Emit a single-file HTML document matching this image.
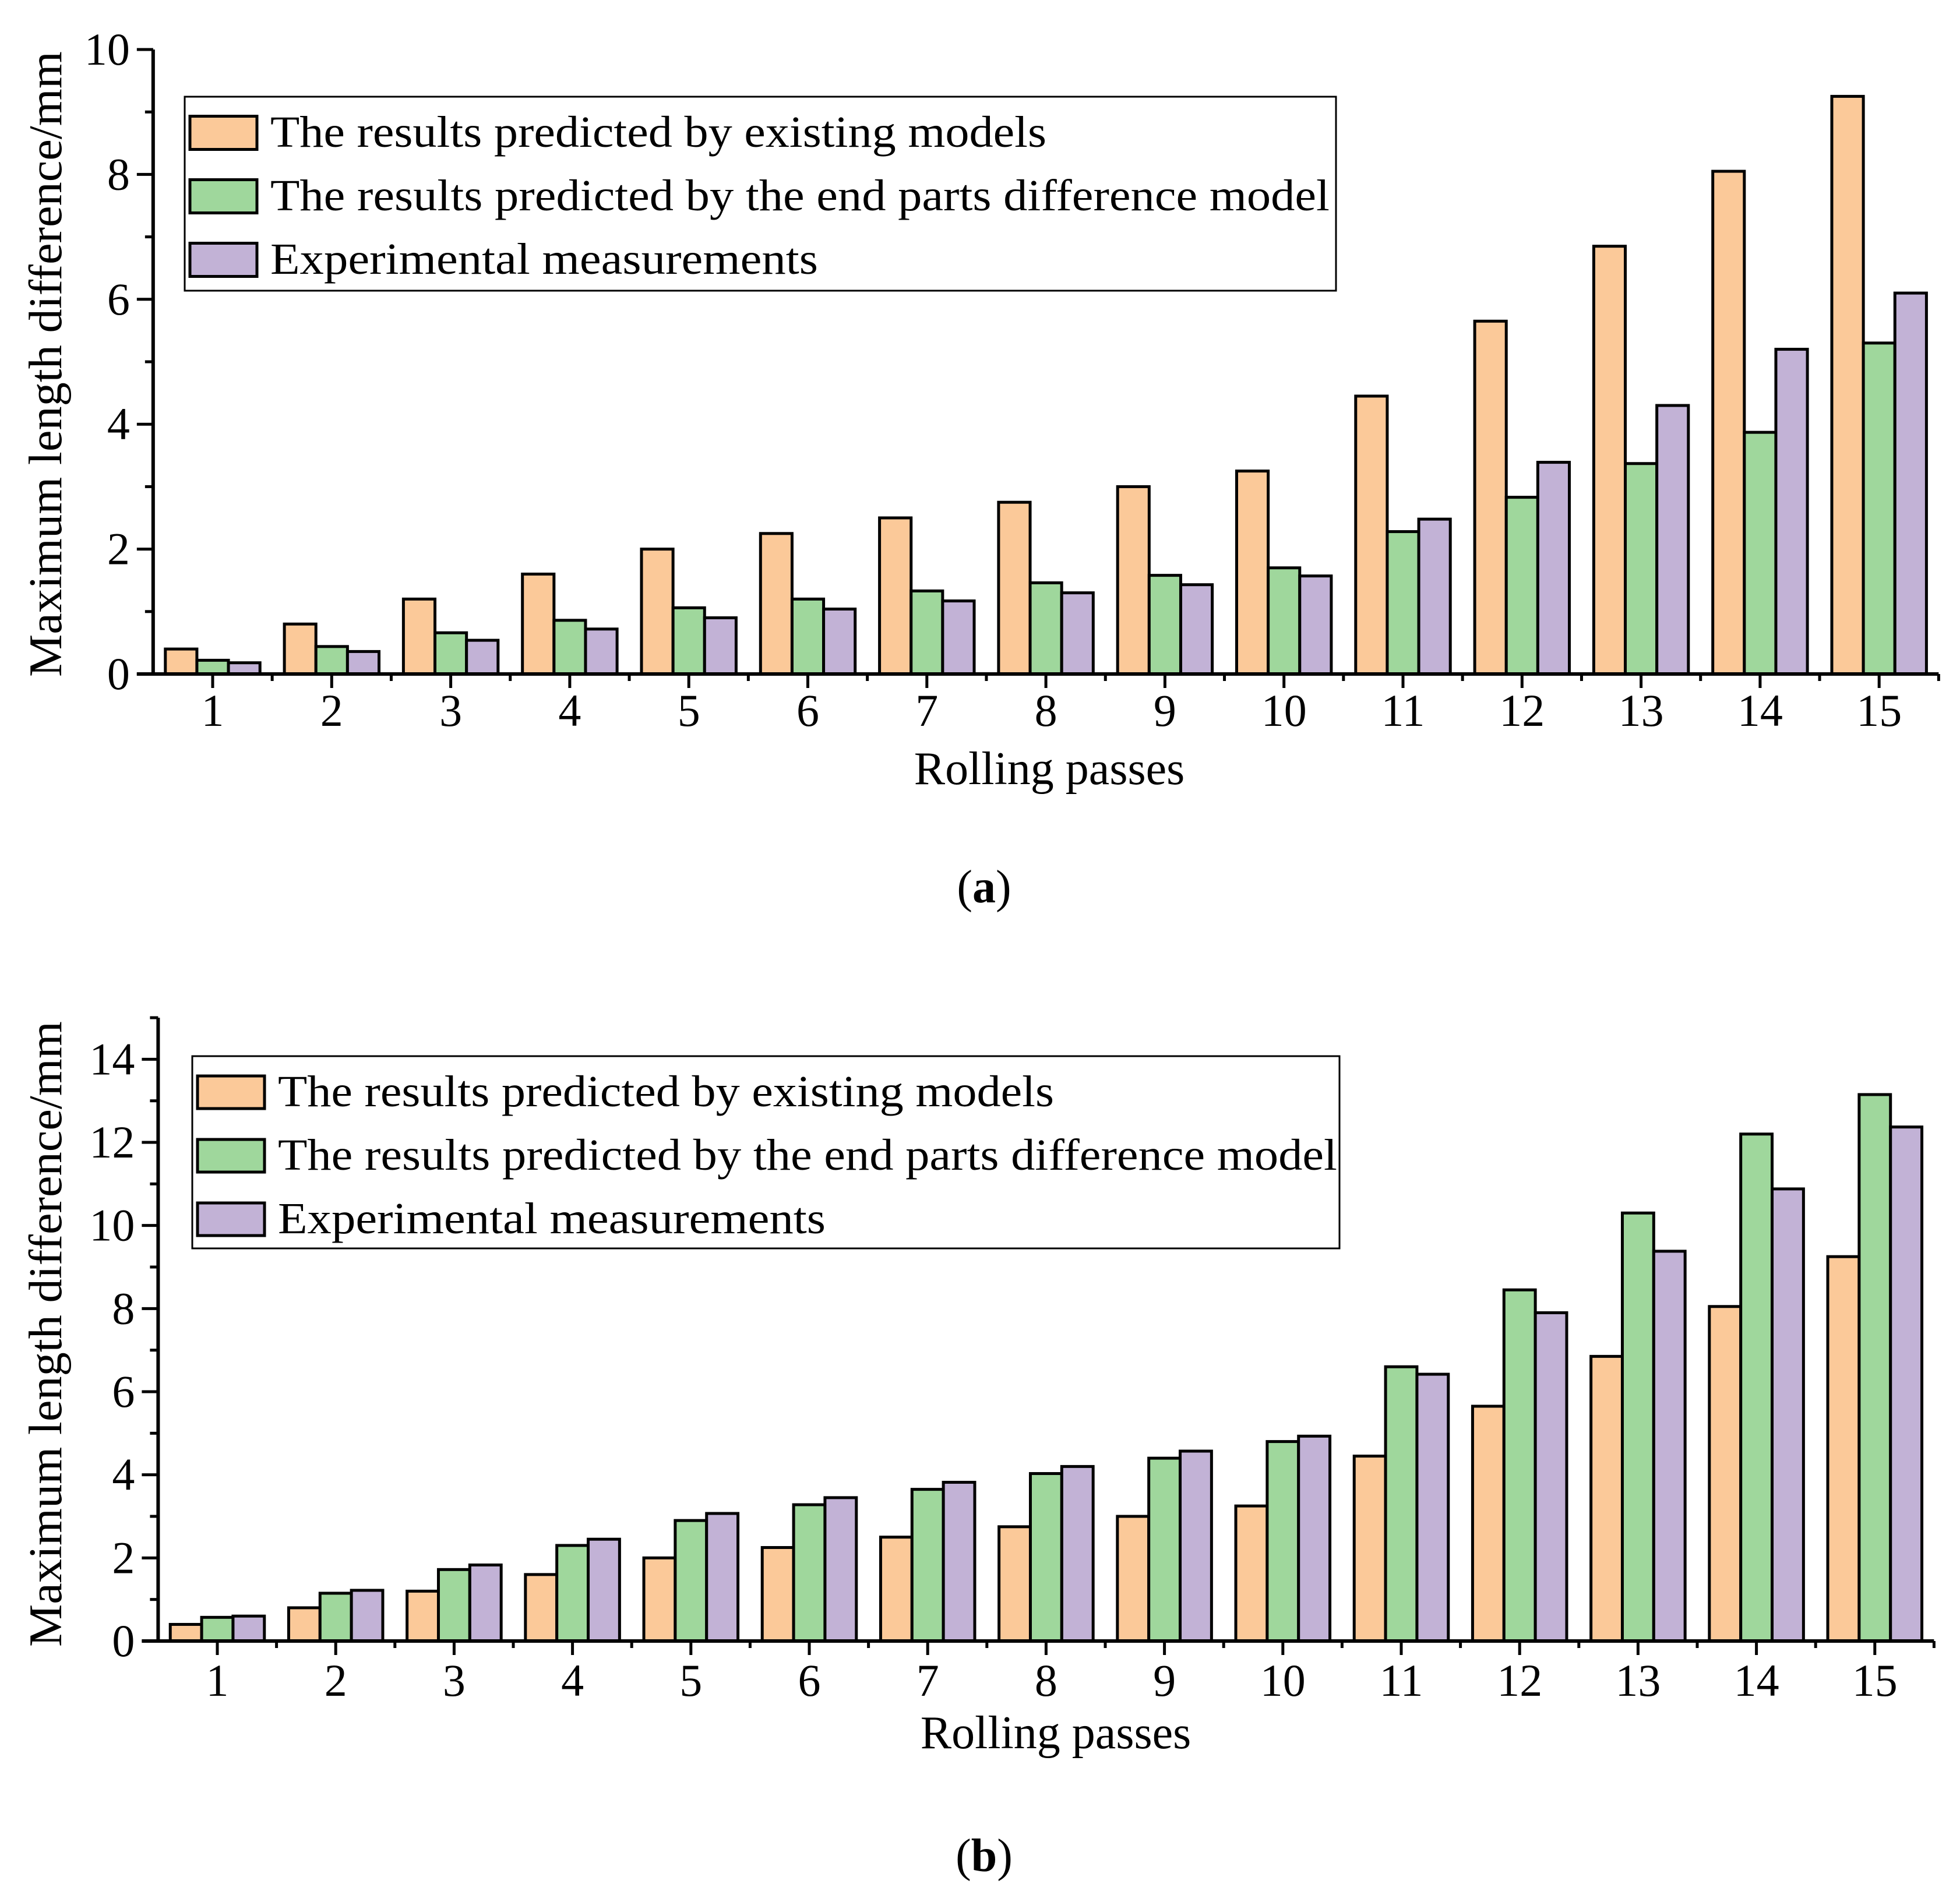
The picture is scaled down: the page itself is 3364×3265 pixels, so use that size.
<!DOCTYPE html>
<html><head><meta charset="utf-8"><style>
html,body{margin:0;padding:0;background:#fff;}
svg{display:block;font-family:"Liberation Serif",serif;}
</style></head><body>
<svg id="fig" width="3364" height="3265" viewBox="0 0 3364 3265" xmlns="http://www.w3.org/2000/svg">
<rect width="3364" height="3265" fill="#fff"/>
</svg>
<script>
const categories = [1,2,3,4,5,6,7,8,9,10,11,12,13,14,15];
const seriesNames = ["The results predicted by existing models","The results predicted by the end parts difference model","Experimental measurements"];
const aExisting = [0.4,0.8,1.2,1.6,2.0,2.25,2.5,2.75,3.0,3.25,4.45,5.65,6.85,8.05,9.25];
const aEndParts = [0.22,0.44,0.66,0.86,1.06,1.2,1.33,1.46,1.58,1.7,2.28,2.83,3.37,3.87,5.3];
const aMeasured = [0.18,0.36,0.54,0.72,0.9,1.04,1.17,1.3,1.43,1.57,2.48,3.39,4.3,5.2,6.1];
const bExisting = [0.4,0.8,1.2,1.6,2.0,2.25,2.5,2.75,3.0,3.25,4.45,5.65,6.85,8.05,9.25];
const bEndParts = [0.57,1.15,1.72,2.3,2.9,3.28,3.65,4.03,4.4,4.8,6.6,8.45,10.3,12.2,13.15];
const bMeasured = [0.6,1.22,1.83,2.45,3.07,3.45,3.82,4.2,4.57,4.93,6.42,7.9,9.38,10.88,12.37];
const aYTicks = [0,2,4,6,8,10];
const bYTicks = [0,2,4,6,8,10,12,14];

const NS="http://www.w3.org/2000/svg";
const svg=document.getElementById('fig');
const colors=["#FBC999","#9FD79C","#C2B2D6"];
const legendLens=[1332,1818,940];
function mk(tag,attrs,parent){const e=document.createElementNS(NS,tag);for(const k in attrs)e.setAttribute(k,attrs[k]);(parent||svg).appendChild(e);return e;}

function chart(cfg){
  const g=mk('g',{});
  
  
  const xs=v=>cfg.x1+(v-1)*cfg.dx;
  const ys=v=>cfg.y0-(v/cfg.ymax)*(cfg.y0-cfg.ytop);
  const bw=cfg.dx*0.265;
  cfg.series.forEach((arr,si)=>{
    arr.forEach((v,i)=>{
      const cx=xs(categories[i])+(si-1)*bw;
      const r=mk('rect',{x:cx-bw/2,y:ys(v),width:bw,height:ys(0)-ys(v),fill:colors[si],stroke:'#000','stroke-width':5},g);
      
      
    });
  });
  const axL=cfg.x1-cfg.dx/2, axR=xs(categories[categories.length-1])+cfg.dx/2;
  const ya=mk('line',{x1:axL,y1:cfg.ytop,x2:axL,y2:cfg.y0+2,stroke:'#000','stroke-width':6},g);
  
  
  const xa=mk('line',{x1:axL-28,y1:cfg.y0,x2:axR,y2:cfg.y0,stroke:'#000','stroke-width':6},g);
  
  
  for(let v=0;v<=cfg.ymax;v+=1){
    const major=cfg.yticks.includes(v);
    mk('line',{x1:axL-(major?28:14),y1:ys(v),x2:axL,y2:ys(v),stroke:'#000','stroke-width':5},g);
  }
  cfg.yticks.forEach(v=>{
    const t=mk('text',{x:axL-40,y:ys(v)+26,'text-anchor':'end','font-size':78},g);
    t.textContent=v;
    
    
  });
  categories.forEach(c=>{
    mk('line',{x1:xs(c),y1:cfg.y0,x2:xs(c),y2:cfg.y0+24,stroke:'#000','stroke-width':5},g);
    mk('line',{x1:xs(c)+cfg.dx/2,y1:cfg.y0,x2:xs(c)+cfg.dx/2,y2:cfg.y0+12,stroke:'#000','stroke-width':5},g);
    const t=mk('text',{x:xs(c),y:cfg.tickY,'text-anchor':'middle','font-size':78},g);
    t.textContent=c;
    
    
  });
  const xt=mk('text',{x:cfg.xtX,y:cfg.xtY,'text-anchor':'middle','font-size':80},g);
  xt.textContent='Rolling passes';
  
  
  const yt=mk('text',{x:0,y:0,'text-anchor':'middle','font-size':80,textLength:cfg.ytLen,lengthAdjust:'spacingAndGlyphs',transform:`translate(${cfg.ytX},${cfg.ytY}) rotate(-90)`},g);
  yt.textContent='Maximum length difference/mm';
  
  
  const L=cfg.legend;
  const lb=mk('rect',{x:L.x,y:L.y,width:L.w,height:L.h,fill:'#fff',stroke:'#000','stroke-width':3},g);
  
  
  seriesNames.forEach((n,i)=>{
    const cy=L.rows[i];
    const sw=mk('rect',{x:L.x+9,y:cy-L.sh/2,width:115,height:L.sh,fill:colors[i],stroke:'#000','stroke-width':5},g);
    
    
    const t=mk('text',{x:L.x+147,y:cy+24,'font-size':76,textLength:legendLens[i],lengthAdjust:'spacingAndGlyphs'},g);
    t.textContent=n;
    
    
  });
  const cap=mk('text',{x:cfg.capX,y:cfg.capY,'text-anchor':'middle','font-size':80},g);
  cap.innerHTML='(<tspan font-weight="bold">'+cfg.tag+'</tspan>)';
  
  
}

chart({name:'chart-a',tag:'a',x1:365,dx:204.3,y0:1157,ytop:85,ymax:10,yticks:aYTicks,
  series:[aExisting,aEndParts,aMeasured],tickY:1246,xtX:1801,xtY:1346,ytX:105,ytY:625,ytLen:1074,
  legend:{x:317,y:166,w:1976,h:333,rows:[228,337,446],sh:57},capX:1689,capY:1549});
chart({name:'chart-b',tag:'b',x1:373,dx:203.2,y0:2817,ytop:1747,ymax:15,yticks:bYTicks,
  series:[bExisting,bEndParts,bMeasured],tickY:2911,xtX:1812,xtY:3001,ytX:105,ytY:2290,ytLen:1074,
  legend:{x:330,y:1813,w:1969,h:330,rows:[1875,1984,2093],sh:56},capX:1689,capY:3212});
</script>
</body></html>
